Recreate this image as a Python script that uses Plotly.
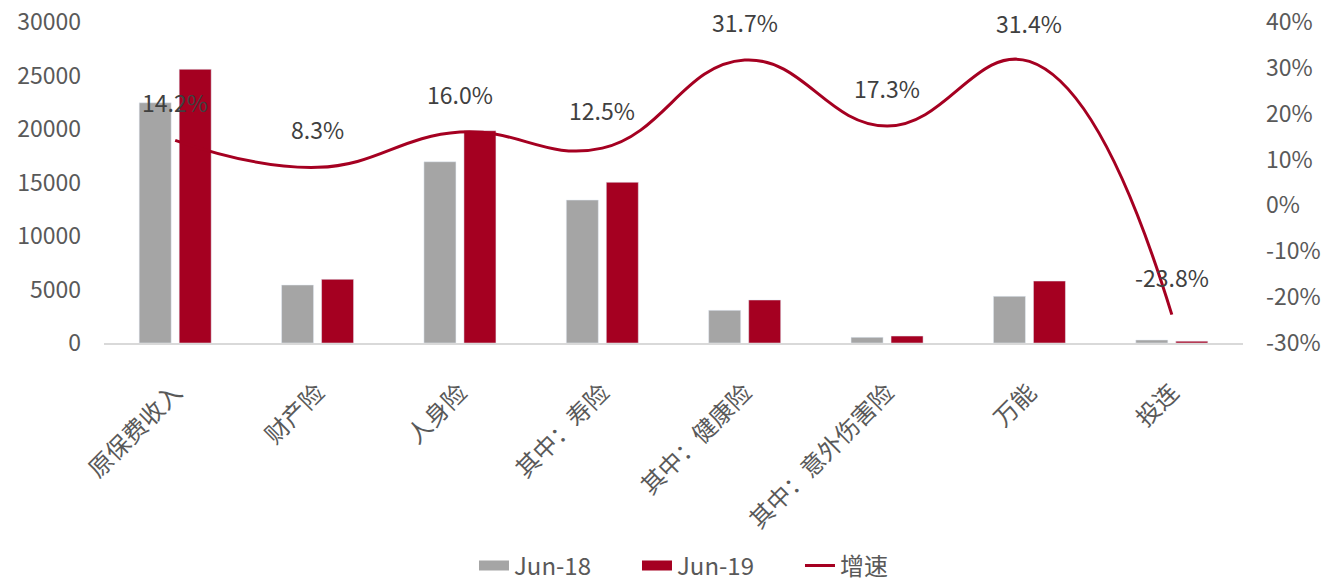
import plotly.graph_objects as go

categories = ["原保费收入", "财产险", "人身险", "其中：寿险", "其中：健康险", "其中：意外伤害险", "万能", "投连"]
jun18 = [22450, 5420, 16940, 13360, 3050, 530, 4360, 280]
jun19 = [25580, 5950, 19840, 15020, 4020, 650, 5790, 170]
growth = [14.2, 8.3, 16.0, 12.5, 31.7, 17.3, 31.4, -23.8]
growth_labels = ["14.2%", "8.3%", "16.0%", "12.5%", "31.7%", "17.3%", "31.4%", "-23.8%"]

left_ticks = [0, 5000, 10000, 15000, 20000, 25000, 30000]
left_ticktext = ["0", "5000", "10000", "15000", "20000", "25000", "30000"]
right_ticks = [-30, -20, -10, 0, 10, 20, 30, 40]
right_ticktext = ["-30%", "-20%", "-10%", "0%", "10%", "20%", "30%", "40%"]

GRAY = "#A5A5A5"
RED = "#A50021"
TXT = "#595959"
FONT = "Noto Sans CJK SC"
FS = 23

fig = go.Figure()
fig.add_trace(go.Bar(x=categories, y=jun18, name="Jun-18", marker_color=GRAY, yaxis="y",
                     showlegend=False))
fig.add_trace(go.Bar(x=categories, y=jun19, name="Jun-19", marker_color=RED, yaxis="y",
                     showlegend=False))
fig.add_trace(go.Scatter(x=categories, y=growth, name="增速", mode="lines",
                         line=dict(color=RED, width=3, shape="spline", smoothing=1.25),
                         yaxis="y2", showlegend=False))

# legend entries (wide rectangles like the original legend keys)
fig.add_trace(go.Scatter(x=[None], y=[None], mode="lines", name="Jun-18",
                         line=dict(color=GRAY, width=14), yaxis="y"))
fig.add_trace(go.Scatter(x=[None], y=[None], mode="lines", name="Jun-19",
                         line=dict(color=RED, width=14), yaxis="y"))
fig.add_trace(go.Scatter(x=[None], y=[None], mode="lines", name="增速",
                         line=dict(color=RED, width=3), yaxis="y"))

for c, g, t in zip(categories, growth, growth_labels):
    fig.add_annotation(x=c, y=g, xref="x", yref="y2", text=t, showarrow=False,
                       yshift=38, font=dict(family=FONT, size=FS, color="#404040"))

fig.update_layout(
    width=1344, height=581,
    margin=dict(l=104, r=101, t=22, b=238, autoexpand=False),
    paper_bgcolor="white", plot_bgcolor="white",
    barmode="group", bargap=0.438, bargroupgap=0.2,
    font=dict(family=FONT, size=FS, color=TXT),
    xaxis=dict(showline=True, linecolor="#D9D9D9", linewidth=2, tickangle=-45,
               ticks="", showgrid=False, tickfont=dict(size=24, color=TXT),
               automargin=False, ticklabelstandoff=24),
    yaxis=dict(range=[0, 30000], tickvals=left_ticks, ticktext=left_ticktext,
               showgrid=False, zeroline=False, automargin=False,
               showline=False, ticks="", tickfont=dict(size=FS, color=TXT),
               ticklabelstandoff=22),
    yaxis2=dict(range=[-30, 40], tickvals=right_ticks, ticktext=right_ticktext,
                overlaying="y", automargin=False,
                side="right", showgrid=False, zeroline=False, showline=False, ticks="",
                tickfont=dict(size=FS, color=TXT), ticklabelstandoff=22),
    legend=dict(orientation="h", x=0.5395, xanchor="center", yref="container", y=0.026,
                yanchor="middle", font=dict(size=24, color=TXT), itemwidth=30,
                entrywidth=118),
    showlegend=True,
)

fig.write_html("out.html")
